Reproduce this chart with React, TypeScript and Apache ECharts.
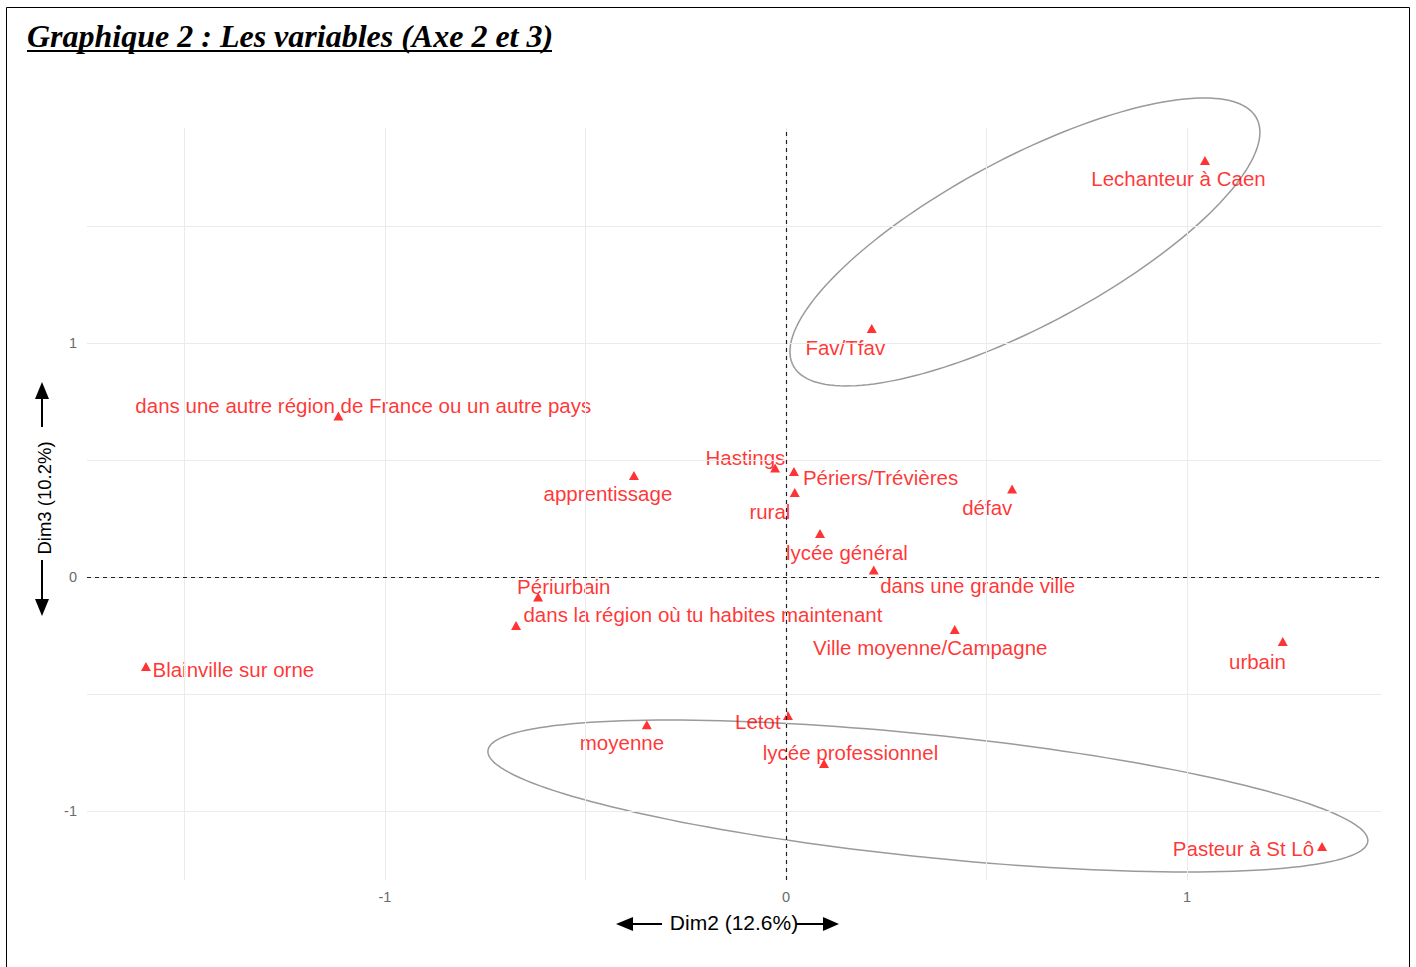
import React, { useEffect, useRef } from "react";
import * as echarts from "echarts";

// Variables (modalities) on dimensions 2 and 3
const names = [
  "Lechanteur à Caen",
  "Fav/Tfav",
  "dans une autre région de France ou un autre pays",
  "Hastings",
  "Périers/Trévières",
  "rural",
  "apprentissage",
  "défav",
  "lycée général",
  "dans une grande ville",
  "Périurbain",
  "dans la région où tu habites maintenant",
  "Ville moyenne/Campagne",
  "urbain",
  "Blainville sur orne",
  "moyenne",
  "Letot",
  "lycée professionnel",
  "Pasteur à St Lô",
];
const dim2 = [1.045, 0.214, -1.116, -0.027, 0.02, 0.022, -0.379, 0.564, 0.085, 0.219, -0.618, -0.673, 0.421, 1.239, -1.596, -0.347, 0.005, 0.095, 1.337];
const dim3 = [1.782, 1.064, 0.69, 0.468, 0.453, 0.363, 0.436, 0.378, 0.188, 0.032, -0.083, -0.205, -0.222, -0.274, -0.38, -0.63, -0.59, -0.795, -1.15];
// repelled label positions (data units)
const labelDim2 = [0.979, 0.148, -1.054, -0.101, 0.236, -0.04, -0.444, 0.502, 0.152, 0.478, -0.554, -0.207, 0.36, 1.176, -1.378, -0.409, -0.07, 0.161, 1.141];
const labelDim3 = [1.706, 0.985, 0.737, 0.511, 0.429, 0.284, 0.357, 0.297, 0.105, -0.036, -0.038, -0.16, -0.301, -0.359, -0.395, -0.707, -0.615, -0.746, -1.157];

// Confidence ellipses: centre and covariance (data units)
const ellipseCx = [0.596, 0.354];
const ellipseCy = [1.434, -0.934];
const ellipseVarX = [0.3434, 1.204];
const ellipseVarY = [0.3787, 0.1055];
const ellipseCov = [0.2747, -0.2089];

const tickValues = [-1, 0, 1];
const gridValues = [-1.5, -1, -0.5, 0, 0.5, 1, 1.5];
const xRange = [-1.743, 1.484];
const yRange = [-1.293, 1.921];

const SANS = '"Liberation Sans", Arial, sans-serif';

export default function App() {
  const ref = useRef<HTMLDivElement>(null);
  useEffect(() => {
    if (!ref.current) return;
    const chart = echarts.init(ref.current, undefined, { renderer: "svg" });
    const gridLines: any[] = [];
    gridValues.forEach((v) => {
      gridLines.push({ xAxis: v });
      gridLines.push({ yAxis: v });
    });
    const axisCommon = {
      type: "value",
      splitLine: { show: false },
      axisLine: { show: false },
      axisTick: { show: true, customValues: tickValues, length: 5, lineStyle: { color: "#333", width: 1 } },
      axisLabel: {
        customValues: tickValues,
        color: "#6b6b6b",
        fontSize: 14.5,
        fontFamily: SANS,
        margin: 9,
        showMinLabel: true,
        showMaxLabel: true,
      },
    };
    const option: any = {
      animation: false,
      backgroundColor: "#fff",
      grid: { left: 87, right: 35, top: 128, bottom: 87, containLabel: false },
      xAxis: { ...axisCommon, min: xRange[0], max: xRange[1] },
      yAxis: { ...axisCommon, min: yRange[0], max: yRange[1], axisLabel: { ...axisCommon.axisLabel, margin: 10 } },
      series: [
        {
          type: "line",
          data: [],
          z: 0,
          silent: true,
          markLine: {
            silent: true,
            symbol: "none",
            label: { show: false },
            lineStyle: { color: "#ebebeb", width: 1, type: "solid" },
            data: gridLines,
          },
        },
        {
          type: "line",
          data: [],
          z: 1,
          silent: true,
          markLine: {
            silent: true,
            symbol: "none",
            label: { show: false },
            lineStyle: { color: "#222", width: 1.2, type: [4, 4] },
            data: [{ xAxis: 0 }, { yAxis: 0 }],
          },
        },
        {
          type: "custom",
          z: 2,
          silent: true,
          data: ellipseCx.map((c, i) => [c, ellipseCy[i], ellipseVarX[i], ellipseVarY[i], ellipseCov[i]]),
          encode: { x: 0, y: 1 },
          renderItem: (params: any, api: any) => {
            const cx = api.value(0);
            const cy = api.value(1);
            const sxx = api.value(2);
            const syy = api.value(3);
            const sxy = api.value(4);
            const a11 = Math.sqrt(sxx);
            const a21 = sxy / a11;
            const a22 = Math.sqrt(Math.max(syy - a21 * a21, 0));
            const pts: number[][] = [];
            for (let i = 0; i <= 180; i++) {
              const t = (i / 180) * Math.PI * 2;
              const c = Math.cos(t);
              const s = Math.sin(t);
              pts.push(api.coord([cx + a11 * c, cy + a21 * c + a22 * s]));
            }
            return {
              type: "polygon",
              shape: { points: pts },
              style: { fill: "none", stroke: "#9a9a9a", lineWidth: 1.5 },
            };
          },
        },
        {
          type: "scatter",
          z: 3,
          symbol: "triangle",
          symbolSize: [10, 9],
          itemStyle: { color: "#ff0000" },
          data: names.map((n, i) => ({ name: n, value: [dim2[i], dim3[i]] })),
        },
        {
          type: "scatter",
          z: 4,
          symbolSize: 0,
          silent: true,
          label: {
            show: true,
            position: "inside",
            formatter: (p: any) => p.name,
            color: "#ff0000",
            fontSize: 20.5,
            fontFamily: SANS,
          },
          data: names.map((n, i) => ({ name: n, value: [labelDim2[i], labelDim3[i]] })),
        },
      ],
      graphic: [
        {
          type: "rect",
          silent: true,
          shape: { x: 6.5, y: 7.5, width: 1403, height: 1000 },
          style: { fill: "none", stroke: "#000", lineWidth: 1 },
        },
        {
          type: "text",
          x: 27,
          y: 36,
          style: {
            text: "Graphique 2 : Les variables (Axe 2 et 3)",
            font: 'italic bold 32px "Liberation Serif", "Times New Roman", serif',
            fill: "#000",
            verticalAlign: "middle",
          },
        },
        {
          type: "line",
          shape: { x1: 27, y1: 51, x2: 552, y2: 51 },
          style: { stroke: "#000", lineWidth: 2 },
        },
        {
          type: "text",
          x: 734,
          y: 922,
          style: {
            text: "Dim2 (12.6%)",
            font: '21px "Liberation Sans", Arial, sans-serif',
            fill: "#000",
            align: "center",
            verticalAlign: "middle",
          },
        },
        { type: "line", shape: { x1: 662, y1: 924, x2: 630, y2: 924 }, style: { stroke: "#000", lineWidth: 2 } },
        { type: "polygon", shape: { points: [[616, 924], [633, 917], [633, 931]] }, style: { fill: "#000" } },
        { type: "line", shape: { x1: 796, y1: 924, x2: 826, y2: 924 }, style: { stroke: "#000", lineWidth: 2 } },
        { type: "polygon", shape: { points: [[839, 924], [823, 917], [823, 931]] }, style: { fill: "#000" } },
        {
          type: "text",
          x: 44,
          y: 498,
          rotation: Math.PI / 2,
          style: {
            text: "Dim3 (10.2%)",
            font: '18.5px "Liberation Sans", Arial, sans-serif',
            fill: "#000",
            align: "center",
            verticalAlign: "middle",
          },
        },
        { type: "line", shape: { x1: 42, y1: 427, x2: 42, y2: 396 }, style: { stroke: "#000", lineWidth: 2 } },
        { type: "polygon", shape: { points: [[42, 382], [35, 399], [49, 399]] }, style: { fill: "#000" } },
        { type: "line", shape: { x1: 42, y1: 560, x2: 42, y2: 601 }, style: { stroke: "#000", lineWidth: 2 } },
        { type: "polygon", shape: { points: [[42, 616], [35, 599], [49, 599]] }, style: { fill: "#000" } },
      ],
    };
    chart.setOption(option);
    return () => chart.dispose();
  }, []);
  return (
    <div
      ref={ref}
      style={{ position: "fixed", left: 0, top: 0, width: 1416, height: 967, background: "#fff" }}
    />
  );
}
